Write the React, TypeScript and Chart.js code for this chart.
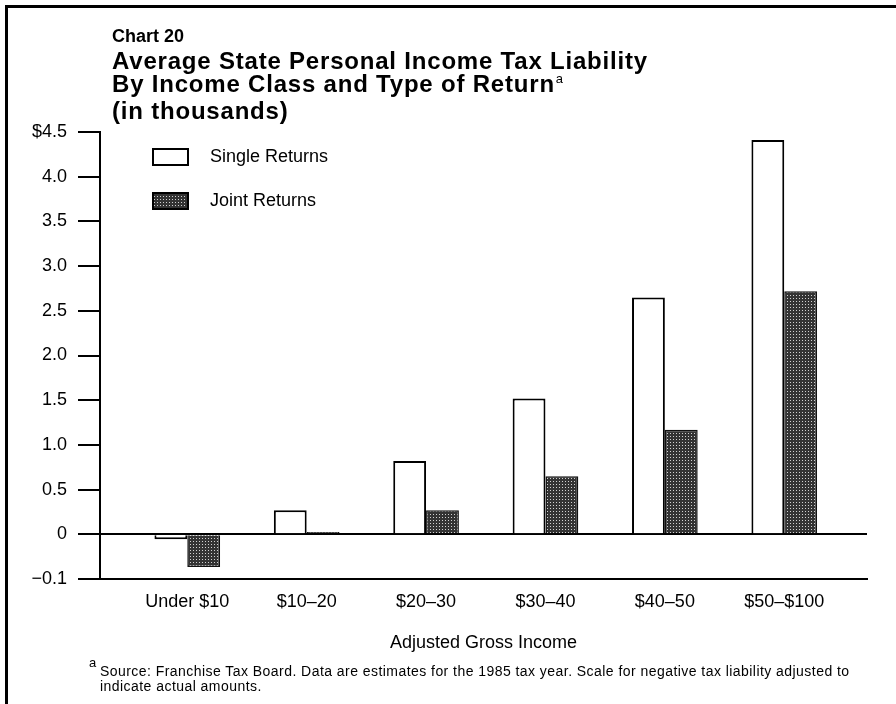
import React, { useEffect, useRef } from "react";
import { Chart, registerables, LinearScale } from "chart.js";

Chart.register(...registerables);

// ---- data ----
const categories = ["Under $10", "$10\u201320", "$20\u201330", "$30\u201340", "$40\u201350", "$50\u2013$100"];
const singleReturns = [-0.011, 0.27, 0.82, 1.52, 2.65, 4.41];
const jointReturns = [-0.073, 0.025, 0.27, 0.65, 1.17, 2.72];
const yTickValues = [-0.1, 0, 0.5, 1.0, 1.5, 2.0, 2.5, 3.0, 3.5, 4.0, 4.5];
const yTickLabels = ["\u22120.1", "0", "0.5", "1.0", "1.5", "2.0", "2.5", "3.0", "3.5", "4.0", "$4.5"];
const seriesLabels = ["Single Returns", "Joint Returns"];
const xAxisTitle = "Adjusted Gross Income";

// share of the y axis given to the (stretched) negative part
const NEG_SHARE = 0.1;

class BrokenLinearScale extends LinearScale {
  static id = "brokenLinear";
  static defaults = LinearScale.defaults;
  getPixelForValue(value: any) {
    if (value === null || value === undefined || Number.isNaN(+value)) return NaN;
    const lo = this.min as number;
    const hi = this.max as number;
    let dec: number;
    if (value >= 0) dec = NEG_SHARE + (value / hi) * (1 - NEG_SHARE);
    else dec = (NEG_SHARE * (value - lo)) / (0 - lo);
    return this.getPixelForDecimal(dec);
  }
  getValueForPixel(pixel: number) {
    const dec = this.getDecimalForPixel(pixel);
    if (dec >= NEG_SHARE) return ((dec - NEG_SHARE) / (1 - NEG_SHARE)) * (this.max as number);
    return (this.min as number) + (dec / NEG_SHARE) * (0 - (this.min as number));
  }
}
Chart.register(BrokenLinearScale as any);

const FONT = '"Liberation Sans", Arial, Helvetica, sans-serif';

function makeStipple(): CanvasPattern | string {
  const c = document.createElement("canvas");
  c.width = 3;
  c.height = 3;
  const g = c.getContext("2d");
  if (!g) return "#4a4a4a";
  g.fillStyle = "#333333";
  g.fillRect(0, 0, 3, 3);
  g.fillStyle = "#d0d0d0";
  g.fillRect(1, 1, 1, 1);
  return g.createPattern(c, "repeat") || "#4a4a4a";
}

const insetLegend = {
  id: "insetLegend",
  afterDraw(chart: any) {
    const { ctx, chartArea } = chart;
    const ds = chart.data.datasets;
    ctx.save();
    ctx.font = `18px ${FONT}`;
    ctx.textBaseline = "middle";
    ctx.fillStyle = "#000";
    const bx = chartArea.left + 53;
    const ys = [chartArea.top + 25, chartArea.top + 69];
    ds.forEach((d: any, i: number) => {
      const y = ys[i];
      ctx.fillStyle = d.backgroundColor;
      ctx.fillRect(bx, y - 8, 35, 16);
      ctx.lineWidth = 2;
      ctx.strokeStyle = "#000";
      ctx.strokeRect(bx, y - 8, 35, 16);
      ctx.fillStyle = "#000";
      ctx.fillText(d.label, bx + 57, y);
    });
    ctx.restore();
  },
};

export default function App() {
  const ref = useRef<HTMLCanvasElement | null>(null);

  useEffect(() => {
    if (!ref.current) return;
    const stipple = makeStipple();
    const tickFont = { family: FONT, size: 18 };
    const chart = new Chart(ref.current, {
      type: "bar",
      data: {
        datasets: [
          {
            label: seriesLabels[0],
            data: singleReturns.map((v, i) => ({ x: i, y: v })),
            backgroundColor: "#ffffff",
            borderColor: "#000000",
            borderWidth: 2,
          },
          {
            label: seriesLabels[1],
            data: jointReturns.map((v, i) => ({ x: i, y: v })),
            backgroundColor: stipple as any,
            borderColor: "#111111",
            borderWidth: 1.5,
          },
        ],
      },
      options: {
        responsive: false,
        animation: false,
        events: [],
        datasets: { bar: { categoryPercentage: 0.55, barPercentage: 1 } } as any,
        layout: { padding: { left: 0, top: 132, right: 29, bottom: 50 } },
        plugins: { legend: { display: false }, tooltip: { enabled: false }, title: { display: false } },
        scales: {
          x: {
            type: "linear",
            offset: false,
            bounds: "data",
            min: -0.731,
            max: 5.693,
            afterBuildTicks: (s: any) => {
              s.ticks = categories.map((_, i) => ({ value: i }));
            },
            afterFit: (s: any) => {
              s.height = 75;
            },
            ticks: {
              callback: (v: any) => categories[Math.round(v)] ?? "",
              font: tickFont,
              color: "#000",
              padding: 12,
              maxRotation: 0,
              autoSkip: false,
            },
            grid: { display: false, drawTicks: false, offset: false },
            border: { display: true, color: "#000", width: 2 },
            title: { display: true, text: xAxisTitle, font: tickFont, color: "#000", padding: { top: 9, bottom: 0 } },
          } as any,
          y: {
            type: "brokenLinear",
            min: -0.1,
            max: 4.5,
            afterBuildTicks: (s: any) => {
              s.ticks = yTickValues.map((v) => ({ value: v }));
            },
            afterFit: (s: any) => {
              s.width = 100;
            },
            ticks: {
              callback: (v: any) => {
                const idx = yTickValues.findIndex((t) => Math.abs(t - v) < 1e-9);
                return idx >= 0 ? yTickLabels[idx] : "";
              },
              font: tickFont,
              color: "#000",
              padding: 11,
              autoSkip: false,
            },
            grid: {
              drawOnChartArea: true,
              color: (c: any) => (c.tick && c.tick.value === 0 ? "#000" : "rgba(0,0,0,0)"),
              lineWidth: (c: any) => (c.tick && c.tick.value === 0 ? 2 : 0),
              drawTicks: true,
              tickLength: 22,
              tickColor: "#000",
              tickWidth: 2,
            },
            border: { display: true, color: "#000", width: 2 },
          } as any,
        },
      },
      plugins: [insetLegend],
    } as any);
    return () => chart.destroy();
  }, []);

  return (
    <div
      style={{
        position: "absolute",
        left: 0,
        top: 0,
        width: 896,
        height: 704,
        background: "#fff",
        overflow: "hidden",
        fontFamily: FONT,
        color: "#000",
      }}
    >
      <canvas ref={ref} width={896} height={704} style={{ position: "absolute", left: 0, top: 0 }} />
      <div style={{ position: "absolute", left: 5, top: 5, width: 900, height: 3, background: "#000" }} />
      <div style={{ position: "absolute", left: 5, top: 5, width: 3, height: 710, background: "#000" }} />
      <div
        style={{
          position: "absolute",
          left: 112,
          top: 27,
          fontWeight: "bold",
          fontSize: 18,
          lineHeight: "18px",
          whiteSpace: "nowrap",
        }}
      >
        Chart 20
      </div>
      <div
        style={{
          position: "absolute",
          left: 112,
          top: 49,
          fontWeight: "bold",
          fontSize: 24,
          lineHeight: "23px",
          letterSpacing: "0.8px",
          whiteSpace: "nowrap",
        }}
      >
        <div>Average State Personal Income Tax Liability</div>
        <div>
          By Income Class and Type of Return
          <span style={{ fontSize: 13, fontWeight: "normal", letterSpacing: 0, position: "relative", top: -9, marginLeft: 1 }}>a</span>
        </div>
        <div>(in thousands)</div>
      </div>
      <div
        style={{
          position: "absolute",
          left: 89,
          top: 656,
          fontSize: 13,
          lineHeight: "13px",
        }}
      >
        a
      </div>
      <div
        style={{
          position: "absolute",
          left: 100,
          top: 664,
          fontSize: 14,
          lineHeight: "15px",
          letterSpacing: "0.45px",
          whiteSpace: "nowrap",
        }}
      >
        <div>
          Source: Franchise Tax Board. Data are estimates for the 1985 tax year. Scale for negative tax liability adjusted to
        </div>
        <div>indicate actual amounts.</div>
      </div>
    </div>
  );
}
